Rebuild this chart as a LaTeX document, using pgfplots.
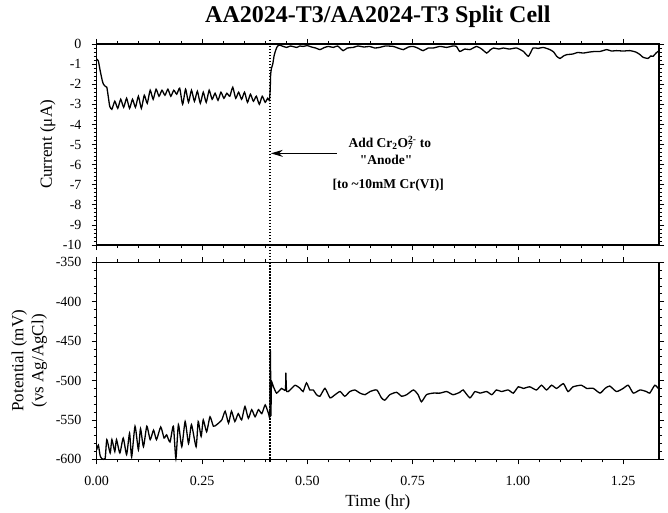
\documentclass[border=0pt]{standalone}
\usepackage{fontspec}
\setmainfont{Liberation Serif}
\usepackage{pgfplots}
\pgfplotsset{compat=1.18}
\usetikzlibrary{arrows.meta}

\pgfplotstableread{
t I
0.000 -0.75
0.004 -0.85
0.008 -1.3
0.013 -1.8
0.016 -2.0
0.020 -2.1
0.024 -2.15
0.028 -2.7
0.031 -3.1
0.036 -3.25
0.043 -2.85
0.050 -3.2
0.057 -2.75
0.064 -3.15
0.071 -2.7
0.078 -3.2
0.085 -2.75
0.092 -3.15
0.099 -2.6
0.106 -3.2
0.113 -2.55
0.120 -2.95
0.127 -2.3
0.134 -2.75
0.141 -2.25
0.148 -2.6
0.155 -2.3
0.162 -2.55
0.169 -2.25
0.176 -2.6
0.183 -2.3
0.190 -2.5
0.197 -2.2
0.204 -3.0
0.211 -2.25
0.218 -2.9
0.225 -2.3
0.232 -2.85
0.239 -2.35
0.246 -2.95
0.253 -2.4
0.260 -2.9
0.267 -2.3
0.274 -2.75
0.281 -2.45
0.288 -2.8
0.295 -2.4
0.302 -2.7
0.309 -2.45
0.316 -2.6
0.323 -2.15
0.330 -2.7
0.337 -2.4
0.344 -2.75
0.351 -2.4
0.358 -2.9
0.365 -2.5
0.372 -2.85
0.379 -2.6
0.386 -3.0
0.393 -2.6
0.400 -2.9
0.406 -2.7
0.410 -2.8
0.412 -2.2
0.413 -1.5
0.415 -1.2
0.418 -1.0
0.421 -0.6
0.424 -0.37
0.428 -0.15
0.433 -0.05
0.440 -0.1
0.451 -0.17
0.460 -0.1
0.475 -0.17
0.482 -0.1
0.490 -0.12
0.500 -0.08
0.510 -0.15
0.520 -0.2
0.530 -0.28
0.540 -0.18
0.550 -0.12
0.562 -0.17
0.572 -0.1
0.585 -0.33
0.595 -0.2
0.609 -0.17
0.620 -0.1
0.635 -0.15
0.648 -0.12
0.660 -0.2
0.672 -0.17
0.685 -0.1
0.704 -0.12
0.715 -0.2
0.728 -0.28
0.740 -0.15
0.751 -0.12
0.762 -0.2
0.775 -0.33
0.787 -0.2
0.799 -0.2
0.815 -0.12
0.831 -0.17
0.845 -0.1
0.854 -0.12
0.862 -0.37
0.874 -0.25
0.886 -0.28
0.902 -0.12
0.914 -0.25
0.926 -0.45
0.934 -0.3
0.942 -0.2
0.955 -0.25
0.965 -0.2
0.980 -0.25
0.997 -0.2
1.013 -0.37
1.025 -0.61
1.036 -0.2
1.048 -0.22
1.060 -0.17
1.076 -0.28
1.085 -0.4
1.092 -0.61
1.100 -0.72
1.108 -0.6
1.116 -0.53
1.130 -0.5
1.142 -0.42
1.155 -0.45
1.170 -0.4
1.183 -0.37
1.195 -0.37
1.211 -0.28
1.222 -0.35
1.234 -0.33
1.250 -0.35
1.266 -0.33
1.280 -0.4
1.290 -0.53
1.297 -0.66
1.309 -0.72
1.315 -0.6
1.321 -0.61
1.328 -0.45
1.335 -0.33
}\currentdata

\pgfplotstableread{
t V
0.000 -588
0.004 -582
0.008 -595
0.012 -599
0.020 -599
0.024 -575
0.032 -592
0.036 -575
0.043 -590
0.047 -575
0.055 -592
0.063 -573
0.071 -594
0.078 -567
0.083 -597
0.091 -558
0.099 -588
0.104 -561
0.111 -584
0.119 -558
0.127 -575
0.135 -563
0.142 -575
0.152 -559
0.160 -573
0.166 -569
0.174 -578
0.182 -558
0.188 -599
0.194 -556
0.202 -584
0.210 -552
0.218 -580
0.225 -556
0.236 -584
0.241 -552
0.248 -571
0.253 -550
0.261 -565
0.269 -546
0.277 -558
0.285 -556
0.297 -550
0.305 -539
0.313 -554
0.320 -539
0.328 -552
0.336 -542
0.344 -550
0.352 -533
0.360 -548
0.368 -537
0.376 -546
0.384 -537
0.392 -542
0.400 -531
0.408 -542
0.411 -544
0.4125 -462
0.4135 -545
0.415 -503
0.419 -507
0.427 -516
0.439 -510
0.448 -512
0.449 -490
0.451 -514
0.459 -512
0.471 -506
0.483 -510
0.490 -514
0.498 -503
0.506 -512
0.514 -512
0.522 -518
0.530 -520
0.542 -510
0.554 -522
0.566 -518
0.578 -514
0.589 -520
0.601 -514
0.613 -512
0.625 -516
0.637 -518
0.649 -514
0.665 -512
0.676 -522
0.684 -525
0.696 -518
0.712 -515
0.724 -520
0.736 -518
0.752 -512
0.763 -518
0.771 -527
0.783 -518
0.799 -516
0.815 -516
0.831 -514
0.846 -518
0.862 -515
0.870 -512
0.886 -522
0.898 -514
0.910 -516
0.926 -514
0.938 -518
0.949 -512
0.961 -514
0.977 -512
0.989 -516
1.001 -508
1.013 -510
1.028 -508
1.044 -512
1.056 -506
1.068 -512
1.080 -506
1.092 -510
1.108 -504
1.119 -514
1.131 -508
1.151 -506
1.163 -510
1.179 -510
1.195 -516
1.207 -510
1.218 -507
1.234 -514
1.250 -510
1.262 -506
1.274 -516
1.290 -512
1.305 -514
1.313 -516
1.325 -506
1.333 -510
}\potentialdata

\pgfplotsset{
  mystyle/.style={
    scale only axis, width=562.3pt,
    xmin=0, xmax=1.335,
    clip=false,
    axis line style={line width=1.1pt},
    tick align=outside,
    major tick length=5pt, minor tick length=3pt,
    every tick/.style={black, line width=0.8pt},
    xtick={0,0.25,0.5,0.75,1,1.25},
    minor x tick num=4,
    minor y tick num=4,
    tick label style={font=\fontsize{14}{16}\selectfont},
    /pgf/number format/assume math mode=true,
    yticklabel style={anchor=east, inner sep=0pt, xshift=-10pt},
    xticklabel style={anchor=north, inner sep=0pt, yshift=-12pt,
      /pgf/number format/.cd, fixed, fixed zerofill, precision=2},
    label style={font=\fontsize{17}{20}\selectfont},
  }
}

\begin{document}
\begin{tikzpicture}
\path[use as bounding box] (-96.7pt,-52.7pt) rectangle (571.3pt,459.3pt);

\begin{axis}[mystyle,
  at={(0pt,214.3pt)}, anchor=south west,
  height=201pt,
  ymin=-10, ymax=0,
  ytick={0,-1,-2,-3,-4,-5,-6,-7,-8,-9,-10},
  xticklabels={},
  ylabel={Current (μA)},
  ylabel style={at={(axis description cs:0,0.5)}, anchor=center, inner sep=0pt, yshift=49pt},
  title={AA2024-T3/AA2024-T3 Split Cell},
  title style={font=\fontsize{24}{28}\selectfont\bfseries, at={(0.5,1)}, anchor=base, yshift=15.7pt},
]
\addplot[black, line width=1.3pt, no marks, smooth, tension=0.35] table[x=t, y=I] {\currentdata};
\draw[line width=1.4pt, dash pattern=on 1.4pt off 1.6pt] (axis cs:0.4115,0.2) -- (axis cs:0.4115,-10.85);
\draw[line width=1.2pt, -{Stealth[length=12pt, width=7pt]}] (axis cs:0.570,-5.44) -- (axis cs:0.4135,-5.44);
\node[font=\fontsize{13.5}{16}\selectfont\bfseries, anchor=base] at (axis cs:0.696,-5.16) {Add Cr\textsubscript{2}O\rlap{\textsubscript{7}}\textsuperscript{2-} to};
\node[font=\fontsize{13.5}{16}\selectfont\bfseries, anchor=base] at (axis cs:0.687,-5.99) {\textquotedbl Anode\textquotedbl};
\node[font=\fontsize{13.5}{16}\selectfont\bfseries, anchor=base] at (axis cs:0.692,-7.18) {[to \textasciitilde 10mM Cr(VI)]};
\end{axis}

\begin{axis}[mystyle,
  at={(0pt,0pt)}, anchor=south west,
  height=197pt,
  ymin=-600, ymax=-350,
  ytick={-600,-550,-500,-450,-400,-350},
  xlabel={Time (hr)},
  xlabel style={at={(axis description cs:0.5,0)}, anchor=base, inner sep=0pt, yshift=-46.7pt},
  ylabel={Potential (mV)\\(vs Ag/AgCl)},
  ylabel style={align=center, at={(axis description cs:0,0.5)}, anchor=center, inner sep=0pt, yshift=67.5pt},
]
\addplot[black, line width=1.3pt, no marks, smooth, tension=0.35] table[x=t, y=V] {\potentialdata};
\draw[line width=1.4pt, dash pattern=on 1.4pt off 1.6pt] (axis cs:0.4115,-350) -- (axis cs:0.4115,-605);
\end{axis}
\end{tikzpicture}
\end{document}
